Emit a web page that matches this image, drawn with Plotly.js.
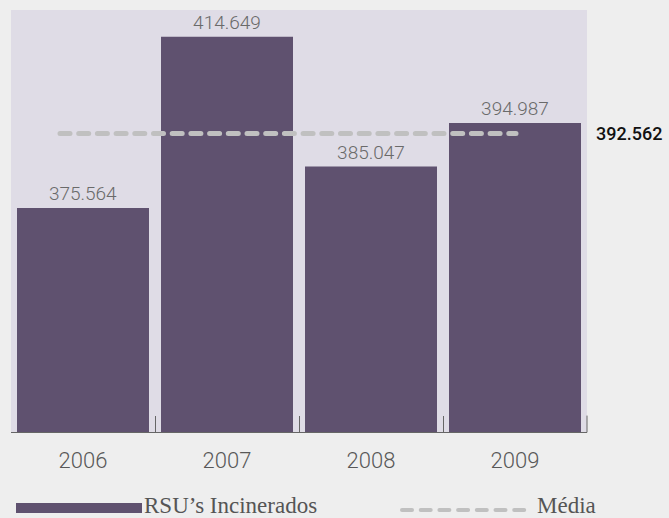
<!DOCTYPE html>
<html>
<head>
<meta charset="utf-8">
<script src="https://cdn.plot.ly/plotly-3.0.1.min.js"></script>
<style>html,body{margin:0;padding:0;background:#eeeeee;}#chart{width:669px;height:518px;}</style>
</head>
<body>
<div id="chart"></div>
<script>
// ---- data ----
const years = ['2006', '2007', '2008', '2009'];
const incinerados = [375.564, 414.649, 385.047, 394.987];
const media = 392.562;
const seriesNames = ['RSU\u2019s Incinerados', 'Média'];

// ---- layout helpers (pixel -> paper) ----
const W = 669, H = 518, ML = 11, MR = 82, MT = 10, MB = 86;
const PW = W - ML - MR, PH = H - MT - MB;
const px = x => (x - ML) / PW;
const py = y => (H - MB - y) / PH;

const barColor = '#5f516f';
const meanColor = '#c0c0c0';

const traces = [{
  type: 'bar',
  x: years,
  y: incinerados,
  name: seriesNames[0],
  marker: {color: barColor, line: {width: 0}},
  texttemplate: '%{y:.3f}',
  textposition: 'outside',
  textfont: {family: 'Roboto', weight: 300, size: 19, color: '#6a6a6a'},
  cliponaxis: false,
  hoverinfo: 'skip',
  showlegend: false
}];

const layout = {
  width: W, height: H,
  margin: {l: ML, r: MR, t: MT, b: MB, pad: 0},
  paper_bgcolor: '#eeeeee',
  plot_bgcolor: '#dfdce6',
  bargap: 12 / 144,
  showlegend: false,
  xaxis: {
    type: 'category',
    range: [-0.5, 3.5],
    tickson: 'boundaries',
    ticks: 'inside',
    ticklen: 16,
    tickwidth: 1,
    tickcolor: '#666666',
    showline: true,
    linecolor: '#666666',
    linewidth: 1,
    showgrid: false,
    zeroline: false,
    ticklabelstandoff: 9,
    tickfont: {family: 'Roboto', weight: 300, size: 22, color: '#585858'},
    fixedrange: true
  },
  yaxis: {
    range: [324.5, 420.75],
    visible: false,
    showgrid: false,
    zeroline: false,
    fixedrange: true
  },
  shapes: [
    // mean line
    {type: 'line', xref: 'paper', yref: 'y', x0: px(60), x1: px(516), y0: media, y1: media,
     line: {color: meanColor, width: 5, dash: '10px,8.7px'}},
    // right-end tick
    {type: 'line', xref: 'paper', yref: 'paper', x0: 1, x1: 1, y0: 0, y1: 16 / PH,
     line: {color: '#666666', width: 1}},
    // legend: bar swatch
    {type: 'rect', xref: 'paper', yref: 'paper', x0: px(16), x1: px(142), y0: py(513), y1: py(503),
     fillcolor: barColor, line: {width: 0}},
    // legend: dashed swatch
    {type: 'line', xref: 'paper', yref: 'paper', x0: px(402), x1: px(527), y0: py(510), y1: py(510),
     line: {color: meanColor, width: 4, dash: '10px,8.7px'}}
  ],
  annotations: [
    {xref: 'paper', yref: 'y', x: px(594), y: media, xanchor: 'left', yanchor: 'middle',
     text: media.toFixed(3), showarrow: false,
     font: {family: 'Roboto', weight: 500, size: 18, color: '#111111'}},
    {xref: 'paper', yref: 'paper', x: px(142), y: py(505), xanchor: 'left', yanchor: 'middle',
     text: seriesNames[0], showarrow: false,
     font: {family: 'Liberation Serif', size: 23, color: '#555555'}},
    {xref: 'paper', yref: 'paper', x: px(535), y: py(505), xanchor: 'left', yanchor: 'middle',
     text: seriesNames[1], showarrow: false,
     font: {family: 'Liberation Serif', size: 23, color: '#555555'}}
  ]
};

Plotly.newPlot('chart', traces, layout, {displayModeBar: false, staticPlot: true}).then(() => {
  document.querySelectorAll('.shapelayer path').forEach(p => { p.style.strokeLinecap = 'round'; });
});
</script>
</body>
</html>
